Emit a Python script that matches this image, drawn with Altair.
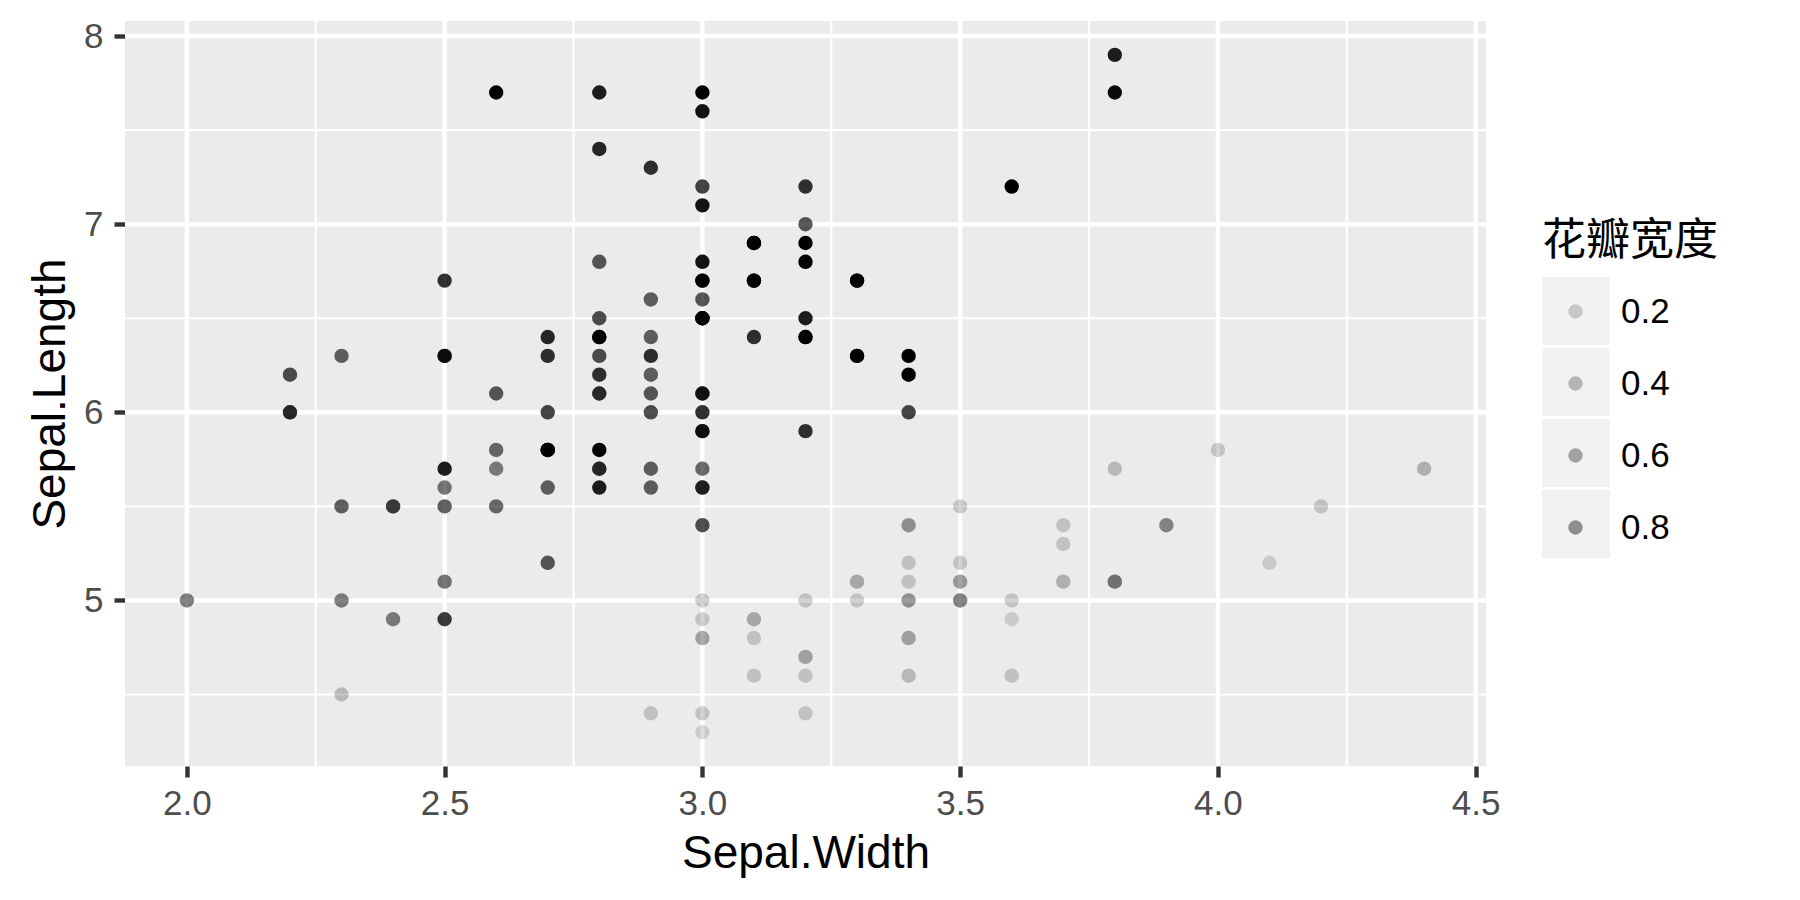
import altair as alt
import pandas as pd

# iris: Sepal.Length, Sepal.Width, Petal.Width (150 rows, in data order)
sepal_length = [
    5.1, 4.9, 4.7, 4.6, 5.0, 5.4, 4.6, 5.0, 4.4, 4.9, 5.4, 4.8, 4.8, 4.3, 5.8, 5.7, 5.4, 5.1, 5.7, 5.1,
    5.4, 5.1, 4.6, 5.1, 4.8, 5.0, 5.0, 5.2, 5.2, 4.7, 4.8, 5.4, 5.2, 5.5, 4.9, 5.0, 5.5, 4.9, 4.4, 5.1,
    5.0, 4.5, 4.4, 5.0, 5.1, 4.8, 5.1, 4.6, 5.3, 5.0,
    7.0, 6.4, 6.9, 5.5, 6.5, 5.7, 6.3, 4.9, 6.6, 5.2, 5.0, 5.9, 6.0, 6.1, 5.6, 6.7, 5.6, 5.8, 6.2, 5.6,
    5.9, 6.1, 6.3, 6.1, 6.4, 6.6, 6.8, 6.7, 6.0, 5.7, 5.5, 5.5, 5.8, 6.0, 5.4, 6.0, 6.7, 6.3, 5.6, 5.5,
    5.5, 6.1, 5.8, 5.0, 5.6, 5.7, 5.7, 6.2, 5.1, 5.7,
    6.3, 5.8, 7.1, 6.3, 6.5, 7.6, 4.9, 7.3, 6.7, 7.2, 6.5, 6.4, 6.8, 5.7, 5.8, 6.4, 6.5, 7.7, 7.7, 6.0,
    6.9, 5.6, 7.7, 6.3, 6.7, 7.2, 6.2, 6.1, 6.4, 7.2, 7.4, 7.9, 6.4, 6.3, 6.1, 7.7, 6.3, 6.4, 6.0, 6.9,
    6.7, 6.9, 5.8, 6.8, 6.7, 6.7, 6.3, 6.5, 6.2, 5.9,
]
sepal_width = [
    3.5, 3.0, 3.2, 3.1, 3.6, 3.9, 3.4, 3.4, 2.9, 3.1, 3.7, 3.4, 3.0, 3.0, 4.0, 4.4, 3.9, 3.5, 3.8, 3.8,
    3.4, 3.7, 3.6, 3.3, 3.4, 3.0, 3.4, 3.5, 3.4, 3.2, 3.1, 3.4, 4.1, 4.2, 3.1, 3.2, 3.5, 3.6, 3.0, 3.4,
    3.5, 2.3, 3.2, 3.5, 3.8, 3.0, 3.8, 3.2, 3.7, 3.3,
    3.2, 3.2, 3.1, 2.3, 2.8, 2.8, 3.3, 2.4, 2.9, 2.7, 2.0, 3.0, 2.2, 2.9, 2.9, 3.1, 3.0, 2.7, 2.2, 2.5,
    3.2, 2.8, 2.5, 2.8, 2.9, 3.0, 2.8, 3.0, 2.9, 2.6, 2.4, 2.4, 2.7, 2.7, 3.0, 3.4, 3.1, 2.3, 3.0, 2.5,
    2.6, 3.0, 2.6, 2.3, 2.7, 3.0, 2.9, 2.9, 2.5, 2.8,
    3.3, 2.7, 3.0, 2.9, 3.0, 3.0, 2.5, 2.9, 2.5, 3.6, 3.2, 2.7, 3.0, 2.5, 2.8, 3.2, 3.0, 3.8, 2.6, 2.2,
    3.2, 2.8, 2.8, 2.7, 3.3, 3.2, 2.8, 3.0, 2.8, 3.0, 2.8, 3.8, 2.8, 2.8, 2.6, 3.0, 3.4, 3.1, 3.0, 3.1,
    3.1, 3.1, 2.7, 3.2, 3.3, 3.0, 2.5, 3.0, 3.4, 3.0,
]
petal_width = [
    0.2, 0.2, 0.2, 0.2, 0.2, 0.4, 0.3, 0.2, 0.2, 0.1, 0.2, 0.2, 0.1, 0.1, 0.2, 0.4, 0.4, 0.3, 0.3, 0.3,
    0.2, 0.4, 0.2, 0.5, 0.2, 0.2, 0.4, 0.2, 0.2, 0.2, 0.2, 0.4, 0.1, 0.2, 0.2, 0.2, 0.2, 0.1, 0.2, 0.2,
    0.3, 0.3, 0.2, 0.6, 0.4, 0.3, 0.2, 0.2, 0.2, 0.2,
    1.4, 1.5, 1.5, 1.3, 1.5, 1.3, 1.6, 1.0, 1.3, 1.4, 1.0, 1.5, 1.0, 1.4, 1.3, 1.4, 1.5, 1.0, 1.5, 1.1,
    1.8, 1.3, 1.5, 1.2, 1.3, 1.4, 1.4, 1.7, 1.5, 1.0, 1.1, 1.0, 1.2, 1.6, 1.5, 1.6, 1.5, 1.3, 1.3, 1.3,
    1.2, 1.4, 1.2, 1.0, 1.3, 1.2, 1.3, 1.3, 1.1, 1.3,
    2.5, 1.9, 2.1, 1.8, 2.2, 2.1, 1.7, 1.8, 1.8, 2.5, 2.0, 1.9, 2.1, 2.0, 2.4, 2.3, 1.8, 2.2, 2.3, 1.5,
    2.3, 2.0, 2.0, 1.8, 2.1, 1.8, 1.8, 1.8, 2.1, 1.6, 1.9, 2.0, 2.2, 1.5, 1.4, 2.3, 2.4, 1.8, 1.8, 2.1,
    2.4, 2.3, 1.9, 2.3, 2.5, 2.3, 1.9, 2.0, 2.3, 1.8,
]

x_major = [2.0, 2.5, 3.0, 3.5, 4.0, 4.5]
x_minor = [2.25, 2.75, 3.25, 3.75, 4.25]
y_major = [5, 6, 7, 8]
y_minor = [4.5, 5.5, 6.5, 7.5]
legend_values = [0.2, 0.4, 0.6, 0.8]

df = pd.DataFrame({"sl": sepal_length, "sw": sepal_width, "pw": petal_width})
key_labels = [f"{v:.1f}" for v in legend_values]

xscale = alt.Scale(domain=[1.88, 4.52], nice=False, zero=False)
yscale = alt.Scale(domain=[4.12, 8.08], nice=False, zero=False)

FONT = "Liberation Sans"

x_axis = alt.Axis(title="Sepal.Width", values=x_major, format=".1f",
                  labelPadding=9, titlePadding=10)
y_axis = alt.Axis(title="Sepal.Length", values=y_major, format="d",
                  labelPadding=11, titlePadding=9)

vminor = alt.Chart(pd.DataFrame({"sw": x_minor})).mark_rule(color="white", strokeWidth=2.2).encode(
    x=alt.X("sw:Q", scale=xscale, axis=x_axis))
vmajor = alt.Chart(pd.DataFrame({"sw": x_major})).mark_rule(color="white", strokeWidth=4.4).encode(
    x=alt.X("sw:Q", scale=xscale, axis=x_axis))
hminor = alt.Chart(pd.DataFrame({"sl": y_minor})).mark_rule(color="white", strokeWidth=2.2).encode(
    y=alt.Y("sl:Q", scale=yscale, axis=y_axis))
hmajor = alt.Chart(pd.DataFrame({"sl": y_major})).mark_rule(color="white", strokeWidth=4.4).encode(
    y=alt.Y("sl:Q", scale=yscale, axis=y_axis))

# legend key backgrounds (grey95 squares, as in ggplot legend keys); no marks drawn
keys = alt.Chart(
    pd.DataFrame({"k": key_labels, "sw": [3.0] * len(key_labels), "sl": [6.0] * len(key_labels)})
).transform_filter("false").mark_point(
    filled=True, color="#F2F2F2", opacity=1, size=4624, shape="square"
).encode(
    x=alt.X("sw:Q", scale=xscale, axis=x_axis),
    y=alt.Y("sl:Q", scale=yscale, axis=y_axis),
    shape=alt.Shape(
        "k:N",
        scale=alt.Scale(domain=key_labels, range=["square"]),
        legend=alt.Legend(
            title=None, orient="none", legendX=1417, legendY=256, padding=0,
            symbolType="square", symbolSize=4624, symbolFillColor="#F2F2F2",
            symbolStrokeWidth=0, symbolOpacity=1, labelExpr="''", labelFontSize=1,
            rowPadding=3,
        ),
    ),
)

points = alt.Chart(df).mark_circle(size=208, color="black").encode(
    x=alt.X("sw:Q", scale=xscale, axis=x_axis),
    y=alt.Y("sl:Q", scale=yscale, axis=y_axis),
    opacity=alt.Opacity(
        "pw:Q",
        scale=alt.Scale(domain=[0.1, 2.3], range=[0.136, 1.0], clamp=True),
        legend=alt.Legend(
            title="花瓣宽度", values=legend_values, format=".1f",
            orient="none", legendX=1417, legendY=199, padding=0,
            titleFont="Noto Sans CJK SC", titleFontSize=44, titleFontWeight="normal",
            titleColor="black", titlePadding=30,
            labelFont=FONT, labelFontSize=35, labelColor="black", labelBaseline="middle",
            symbolType="circle", symbolSize=208, symbolFillColor="black",
            symbolStrokeWidth=0, symbolOffset=16, labelOffset=28, rowPadding=36,
        ),
    ),
)

chart = alt.layer(vminor, vmajor, hminor, hmajor, keys, points).properties(
    width=1361, height=745,
    autosize=alt.AutoSizeParams(type="none"),
    padding={"left": 117, "top": 13, "right": 306, "bottom": 126},
).configure_view(
    fill="#EBEBEB", strokeWidth=0,
).configure_axis(
    grid=False, domain=False,
    tickColor="#333333", tickWidth=4.4, tickSize=11,
    labelFont=FONT, labelFontSize=35, labelColor="#4D4D4D",
    titleFont=FONT, titleFontSize=46, titleFontWeight="normal", titleColor="black",
)

chart.save("out.html", embed_options={"renderer": "svg", "actions": False})
